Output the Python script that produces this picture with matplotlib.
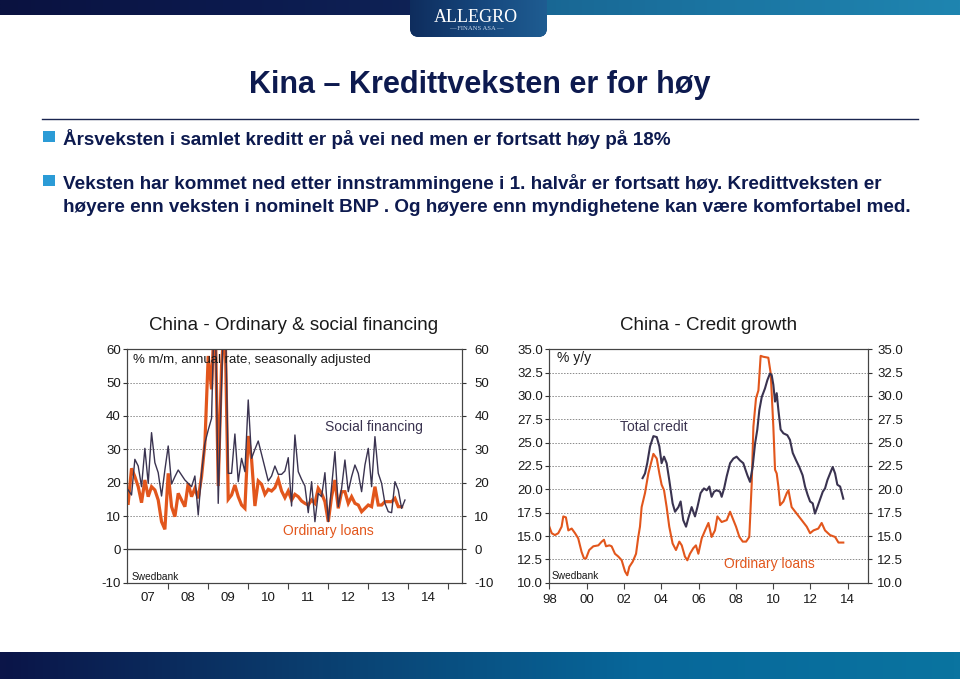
import numpy as np
import matplotlib
matplotlib.use('Agg')
import matplotlib.pyplot as plt
from matplotlib.patches import FancyBboxPatch, Rectangle
from matplotlib.colors import LinearSegmentedColormap

plt.rcParams['font.family'] = ['Liberation Sans', 'DejaVu Sans']

# ---------------- data ----------------
# Left chart: monthly, Jan 2007 onwards (% m/m annual rate, s.a.)
left_start_year = 2007
social_financing = [
    17.8, 16.3, 27.0, 25.0, 18.8, 30.3, 19.8, 35.0, 26.0, 23.0, 16.0, 23.8,
    31.0, 19.6, 21.8, 23.8, 22.3, 20.8, 19.8, 18.8, 22.0, 10.3, 22.8, 31.8,
    35.8, 39.3, 80.0, 13.8, 50.0, 80.0, 22.8, 22.8, 34.6, 20.3, 27.3, 23.3,
    44.8, 27.3, 30.0, 32.5, 28.5, 24.5, 20.5, 22.0, 25.0, 22.5, 22.5, 23.5,
    27.5, 13.0, 34.3, 23.3, 21.0, 19.0, 11.0, 20.3, 8.3, 16.8, 15.8, 23.0,
    8.3, 18.8, 29.3, 12.8, 18.3, 26.8, 17.3, 21.8, 25.3, 22.8, 17.3, 25.3,
    30.3, 18.8, 33.8, 22.8, 19.8, 13.8, 11.3, 11.0, 20.3, 17.8, 12.3, 14.8]
ordinary_loans_mm = [
    13.8, 24.3, 21.8, 18.8, 14.0, 20.8, 15.8, 18.8, 17.8, 14.8, 8.3, 6.0,
    22.8, 12.8, 9.8, 16.8, 14.8, 12.8, 19.8, 15.8, 18.3, 15.3, 21.8, 31.8,
    58.0, 48.0, 75.0, 19.0, 55.0, 70.0, 15.0, 16.3, 19.3, 15.8, 13.3, 12.3,
    34.0, 27.0, 13.0, 20.5, 19.5, 16.5, 18.0, 17.5, 18.5, 21.0, 17.5, 15.5,
    17.5, 14.8, 16.5, 15.8, 14.5, 13.8, 13.3, 14.8, 13.8, 18.3, 16.8, 14.3,
    8.3, 15.8, 20.8, 12.3, 17.3, 17.3, 13.8, 15.8, 13.8, 13.3, 11.3, 12.3,
    13.3, 12.8, 18.8, 13.3, 13.3, 14.3, 14.3, 14.3, 15.3, 12.8, 12.8]
left_year_labels = ['07', '08', '09', '10', '11', '12', '13', '14']
left_yticks = [-10, 0, 10, 20, 30, 40, 50, 60]

# Right chart: % y/y
loans_years = [
    1998.00, 1998.13, 1998.30, 1998.48, 1998.66, 1998.75, 1998.89, 1999.02, 1999.20, 1999.38,
    1999.55, 1999.73, 1999.86, 1999.97, 2000.14, 2000.36, 2000.63, 2000.81, 2000.93, 2001.04,
    2001.22, 2001.34, 2001.52, 2001.70, 2001.88, 2002.06, 2002.18, 2002.29, 2002.47, 2002.65,
    2002.77, 2002.86, 2002.95, 2003.13, 2003.31, 2003.49, 2003.58, 2003.76, 2003.90, 2004.02,
    2004.15, 2004.29, 2004.43, 2004.61, 2004.79, 2004.97, 2005.10, 2005.27, 2005.40, 2005.54,
    2005.72, 2005.86, 2005.99, 2006.17, 2006.35, 2006.53, 2006.70, 2006.88, 2007.01, 2007.24,
    2007.51, 2007.69, 2007.83, 2008.01, 2008.19, 2008.37, 2008.55, 2008.72, 2008.85, 2008.94,
    2009.08, 2009.21, 2009.33, 2009.47, 2009.74, 2009.87, 2010.01, 2010.10, 2010.19, 2010.28,
    2010.37, 2010.55, 2010.73, 2010.82, 2010.99, 2011.26, 2011.53, 2011.80, 2011.98, 2012.16,
    2012.42, 2012.60, 2012.78, 2013.05, 2013.32, 2013.50, 2013.76]
loans_yy = [
    16.0, 15.3, 15.1, 15.3, 16.0, 17.1, 17.0, 15.6, 15.8, 15.3,
    14.75, 13.3, 12.6, 12.6, 13.5, 13.9, 14.0, 14.4, 14.6, 13.9,
    14.0, 13.9, 13.1, 12.8, 12.4, 11.2, 10.8, 11.7, 12.25, 13.1,
    14.9, 16.0, 18.1, 19.6, 21.7, 23.1, 23.8, 23.3, 21.7, 20.5,
    19.9, 18.1, 16.0, 14.2, 13.5, 14.4, 14.0, 12.8, 12.4, 13.1,
    13.7, 14.0, 13.1, 14.75, 15.6, 16.4, 14.9, 15.6, 17.1, 16.5,
    16.7, 17.6, 16.9, 16.0, 14.9, 14.4, 14.4, 14.9, 20.6, 26.7,
    29.75, 30.6, 34.3, 34.2, 34.1, 32.4, 26.7, 22.1, 21.7, 20.3,
    18.3, 18.7, 19.6, 19.9, 18.1, 17.4, 16.7, 16.0, 15.3, 15.6,
    15.8, 16.4, 15.6, 15.1, 14.9, 14.3, 14.3]
credit_years = [
    2003.00, 2003.13, 2003.25, 2003.40, 2003.58, 2003.76, 2003.90, 2004.02, 2004.15, 2004.29,
    2004.43, 2004.61, 2004.74, 2004.92, 2005.04, 2005.18, 2005.33, 2005.45, 2005.63, 2005.81,
    2005.94, 2006.11, 2006.29, 2006.44, 2006.58, 2006.70, 2006.83, 2006.97, 2007.15, 2007.24,
    2007.37, 2007.51, 2007.69, 2007.87, 2008.04, 2008.22, 2008.40, 2008.49, 2008.62, 2008.76,
    2008.90, 2009.03, 2009.15, 2009.26, 2009.39, 2009.56, 2009.69, 2009.83, 2009.92, 2010.01,
    2010.10, 2010.19, 2010.28, 2010.40, 2010.55, 2010.76, 2010.90, 2011.05, 2011.23, 2011.40,
    2011.58, 2011.71, 2011.85, 2011.98, 2012.12, 2012.24, 2012.37, 2012.51, 2012.66, 2012.78,
    2012.91, 2013.05, 2013.19, 2013.32, 2013.44, 2013.59, 2013.76]
total_credit = [
    21.2, 21.7, 22.8, 24.6, 25.7, 25.6, 24.6, 22.8, 23.5, 22.8,
    21.0, 18.5, 17.6, 18.1, 18.7, 16.7, 16.0, 16.9, 18.1, 17.1,
    18.1, 19.6, 20.1, 19.9, 20.3, 19.2, 19.75, 19.9, 19.75, 19.2,
    20.1, 21.4, 22.8, 23.3, 23.5, 23.1, 22.8, 22.25, 21.5, 20.8,
    22.4, 24.9, 26.4, 28.5, 29.9, 30.8, 31.7, 32.4, 32.25, 31.2,
    29.4, 30.3, 28.5, 26.4, 26.0, 25.8, 25.3, 23.9, 23.1, 22.4,
    21.5, 20.3, 19.4, 18.7, 18.5, 17.4, 18.1, 18.9, 19.75, 20.1,
    21.0, 21.7, 22.4, 21.7, 20.5, 20.3, 19.0]
right_xticks = [1998, 2000, 2002, 2004, 2006, 2008, 2010, 2012, 2014]
right_xlabels = ['98', '00', '02', '04', '06', '08', '10', '12', '14']
right_yticks = [10.0, 12.5, 15.0, 17.5, 20.0, 22.5, 25.0, 27.5, 30.0, 32.5, 35.0]

# ---------------- figure ----------------
W, H = 960, 679
fig = plt.figure(figsize=(9.6, 6.79), dpi=100)
bg = fig.add_axes([0, 0, 1, 1], zorder=-5)
bg.axis('off')

NAVY = '#0d1a4f'
ORANGE = '#e2561c'
DARK = '#3a3350'


def hgrad(x0, x1, y0, y1, colors, clip=None, z=1):
    cmap = LinearSegmentedColormap.from_list('g', colors)
    grad = np.linspace(0, 1, 256).reshape(1, -1)
    im = bg.imshow(grad, cmap=cmap, extent=(x0, x1, y1, y0), aspect='auto',
                   zorder=z, interpolation='bilinear')
    if clip is not None:
        im.set_clip_path(clip)
    return im


# header band
hgrad(0, 480, 0, 15, ['#0a1240', '#0c1a4e', '#0f2558'])
hgrad(480, 960, 0, 15, ['#18628f', '#1b75a2', '#1f85b0'])
# logo
logo = FancyBboxPatch((410, -15), 137, 52, boxstyle='round,pad=0,rounding_size=9',
                      facecolor='#143f73', edgecolor='none', zorder=2)
bg.add_patch(logo)
hgrad(405, 552, -15, 40, ['#0e2b5b', '#16467c', '#1f5e93'], clip=logo, z=3)
bg.text(476, 17, 'ALLEGRO', family='Liberation Serif', color='white', fontsize=13,
        ha='center', va='center', zorder=5)
bg.text(476, 28.5, '— FINANS ASA —', family='Liberation Serif', color='#c8d6e8',
        fontsize=4.8, ha='center', va='center', zorder=5)

# footer band
hgrad(0, 960, 652, 679, ['#0b1548', '#0a3f70', '#07679a', '#0a74a0'])

# title
bg.text(480, 93, 'Kina – Kredittveksten er for høy', fontsize=22, weight='bold',
        color=NAVY, ha='center', va='baseline')
bg.plot([42, 918], [118.5, 118.5], color='#1a2550', lw=1.0)

# bullets
BFS = 13.6
bg.add_patch(Rectangle((43, 130.5), 11.5, 11.5, facecolor='#2b9bd6', edgecolor='none'))
bg.add_patch(Rectangle((43, 174.5), 11.5, 11.5, facecolor='#2b9bd6', edgecolor='none'))
bg.text(63, 144.8, 'Årsveksten i samlet kreditt er på vei ned men er fortsatt høy på 18%',
        fontsize=BFS, weight='bold', color=NAVY, va='baseline')
bg.text(63, 188.8, 'Veksten har kommet ned etter innstrammingene i 1. halvår er fortsatt høy. '
        'Kredittveksten er', fontsize=BFS, weight='bold', color=NAVY, va='baseline')
bg.text(63, 211.5, 'høyere enn veksten i nominelt BNP . Og høyere enn myndighetene kan være '
        'komfortabel med.', fontsize=BFS, weight='bold', color=NAVY, va='baseline')

bg.set_xlim(0, W)
bg.set_ylim(H, 0)


def rect(x0, y0, x1, y1):
    return [x0 / W, 1 - y1 / H, (x1 - x0) / W, (y1 - y0) / H]


def ftext(x, y, s, **kw):
    fig.text(x / W, 1 - y / H, s, **kw)


def style_axes(ax, axr, lpad, rpad):
    for a in (ax, axr):
        for sp in a.spines.values():
            sp.set_color('#444444')
            sp.set_linewidth(0.8)
    ax.tick_params(axis='y', direction='out', length=3, pad=lpad, labelsize=9.5,
                   colors='#333333', labelcolor='#1a1a1a')
    axr.tick_params(axis='y', direction='out', length=3, pad=rpad, labelsize=9.5,
                    colors='#333333', labelcolor='#1a1a1a')


GRID = dict(color='#8a8a8a', lw=0.7, linestyle=(0, (1.5, 1.5)))

# ---------------- left chart ----------------
ax1 = fig.add_axes(rect(127, 349.3, 461.7, 582.7))
ax1.set_facecolor('none')
xl = left_start_year + np.arange(len(social_financing)) / 12.0
xo = left_start_year + np.arange(len(ordinary_loans_mm)) / 12.0
ax1.plot(xo, ordinary_loans_mm, color=ORANGE, lw=2.3, solid_joinstyle='miter', zorder=3)
ax1.plot(xl, social_financing, color=DARK, lw=1.0, zorder=4)
ax1.set_xlim(2006.97, 2015.335)
ax1.set_ylim(-10, 60)
for v in [10, 20, 30, 40, 50]:
    ax1.axhline(v, zorder=1, **GRID)
ax1.axhline(0, color='#444444', lw=1.0, zorder=2)
ax1.set_yticks(left_yticks)
ax1.set_yticklabels([str(v) for v in left_yticks])
ax1.set_xticks(np.arange(2008, 2016))
ax1.set_xticklabels([])
ax1.set_xticks(np.arange(len(left_year_labels)) + 2007.5, minor=True)
ax1.set_xticklabels(left_year_labels, minor=True)
ax1.tick_params(axis='x', which='major', direction='out', length=4, color='#444444')
ax1.tick_params(axis='x', which='minor', length=0, pad=7, labelsize=9.5, labelcolor='#1a1a1a')
ax1r = ax1.twinx()
ax1r.set_ylim(-10, 60)
ax1r.set_yticks(left_yticks)
ax1r.set_yticklabels([str(v) for v in left_yticks])
style_axes(ax1, ax1r, 1.5, 6)

ftext(294, 325, 'China - Ordinary & social financing', fontsize=13.5, color='#1a1a1a',
      ha='center', va='center')
ftext(133, 360, '% m/m, annual rate, seasonally adjusted', fontsize=9.5, color='#1a1a1a',
      va='center')
ftext(325, 427, 'Social financing', fontsize=10, color=DARK, va='center')
ftext(283, 531, 'Ordinary loans', fontsize=10, color=ORANGE, va='center')
ftext(131.5, 577.5, 'Swedbank', fontsize=7.3, color='#1a1a1a', va='center')

# ---------------- right chart ----------------
ax2 = fig.add_axes(rect(549.3, 349.3, 868.3, 582.7))
ax2.set_facecolor('none')
ax2.plot(loans_years, loans_yy, color=ORANGE, lw=1.5, zorder=3)
ax2.plot(credit_years, total_credit, color=DARK, lw=1.5, zorder=4)
ax2.set_xlim(1998.0, 2015.1)
ax2.set_ylim(10, 35)
for v in right_yticks[1:-1]:
    ax2.axhline(v, zorder=1, **GRID)
ax2.set_yticks(right_yticks)
ax2.set_yticklabels(['%.1f' % v for v in right_yticks])
ax2.set_xticks(right_xticks)
ax2.set_xticklabels(right_xlabels)
ax2.tick_params(axis='x', direction='out', length=4, pad=4, labelsize=9.5,
                color='#444444', labelcolor='#1a1a1a')
ax2r = ax2.twinx()
ax2r.set_ylim(10, 35)
ax2r.set_yticks(right_yticks)
ax2r.set_yticklabels(['%.1f' % v for v in right_yticks])
style_axes(ax2, ax2r, 1.5, 3.5)

ftext(709, 325, 'China - Credit growth', fontsize=13.5, color='#1a1a1a',
      ha='center', va='center')
ftext(557, 358, '% y/y', fontsize=10, color='#1a1a1a', va='center')
ftext(620, 427, 'Total credit', fontsize=10, color=DARK, va='center')
ftext(724, 564, 'Ordinary loans', fontsize=10, color=ORANGE, va='center')
ftext(552, 576, 'Swedbank', fontsize=7.3, color='#1a1a1a', va='center')

fig.savefig('out.png', dpi=100)
